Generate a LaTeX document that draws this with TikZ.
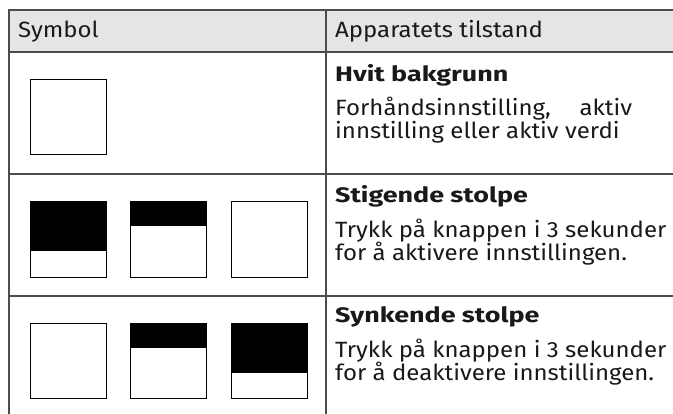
\documentclass[tikz,border=0pt]{standalone}
\usepackage{fontspec}
\setmainfont{Fira Sans}
\begin{document}
\begin{tikzpicture}[x=1pt,y=-1pt,
  grid/.style={draw=black!70,line width=1.1pt},
  sym/.style={draw=black,line width=0.9pt,fill=white},
  bar/.style={fill=black},
  txt/.style={anchor=base west,inner sep=0pt,font=\fontsize{24}{28}\selectfont,text=black!90,yscale=0.92},
  head/.style={txt,font=\fontsize{24}{28}\selectfont\bfseries,xscale=1.12,yscale=0.95}]
\useasboundingbox (0,0) rectangle (673,414);
\fill[black!10] (9,10) rectangle (673,52);
\draw[grid] (673,10) -- (9,10) -- (9,414);
\draw[grid] (9,52) -- (673,52);
\draw[grid] (9,174) -- (673,174);
\draw[grid] (9,296) -- (673,296);
\draw[grid] (326,10) -- (326,414);
\node[txt] (h1) at (18,38) {Symbol};
\node[txt] (h2) at (335,38) {Apparatets tilstand};
% row 1
\draw[sym] (30,79) rectangle (106,154);
\node[head] (t1) at (335,82) {Hvit bakgrunn};
\node[txt] (t1a) at (335,116) {\makebox[297pt][s]{Forhåndsinnstilling, aktiv}};
\node[txt] (t1b) at (335,139) {innstilling eller aktiv verdi};
% row 2
\draw[sym] (30,201) rectangle (106,277);
\fill[bar] (30,201) rectangle (106,251);
\draw[sym] (130,201) rectangle (206,277);
\fill[bar] (130,201) rectangle (206,226);
\draw[sym] (231,201) rectangle (307,277);
\node[head] (t2) at (335,203) {Stigende stolpe};
\node[txt] (t2a) at (335,238) {Trykk på knappen i 3 sekunder};
\node[txt] (t2b) at (335,261) {for å aktivere innstillingen.};
% row 3
\draw[sym] (30,323) rectangle (106,398);
\draw[sym] (130,323) rectangle (206,398);
\fill[bar] (130,323) rectangle (206,348);
\draw[sym] (231,323) rectangle (307,398);
\fill[bar] (231,323) rectangle (307,373);
\node[head] (t3) at (335,323) {Synkende stolpe};
\node[txt] (t3a) at (335,358) {Trykk på knappen i 3 sekunder};
\node[txt] (t3b) at (335,381) {for å deaktivere innstillingen.};
\end{tikzpicture}
\end{document}
